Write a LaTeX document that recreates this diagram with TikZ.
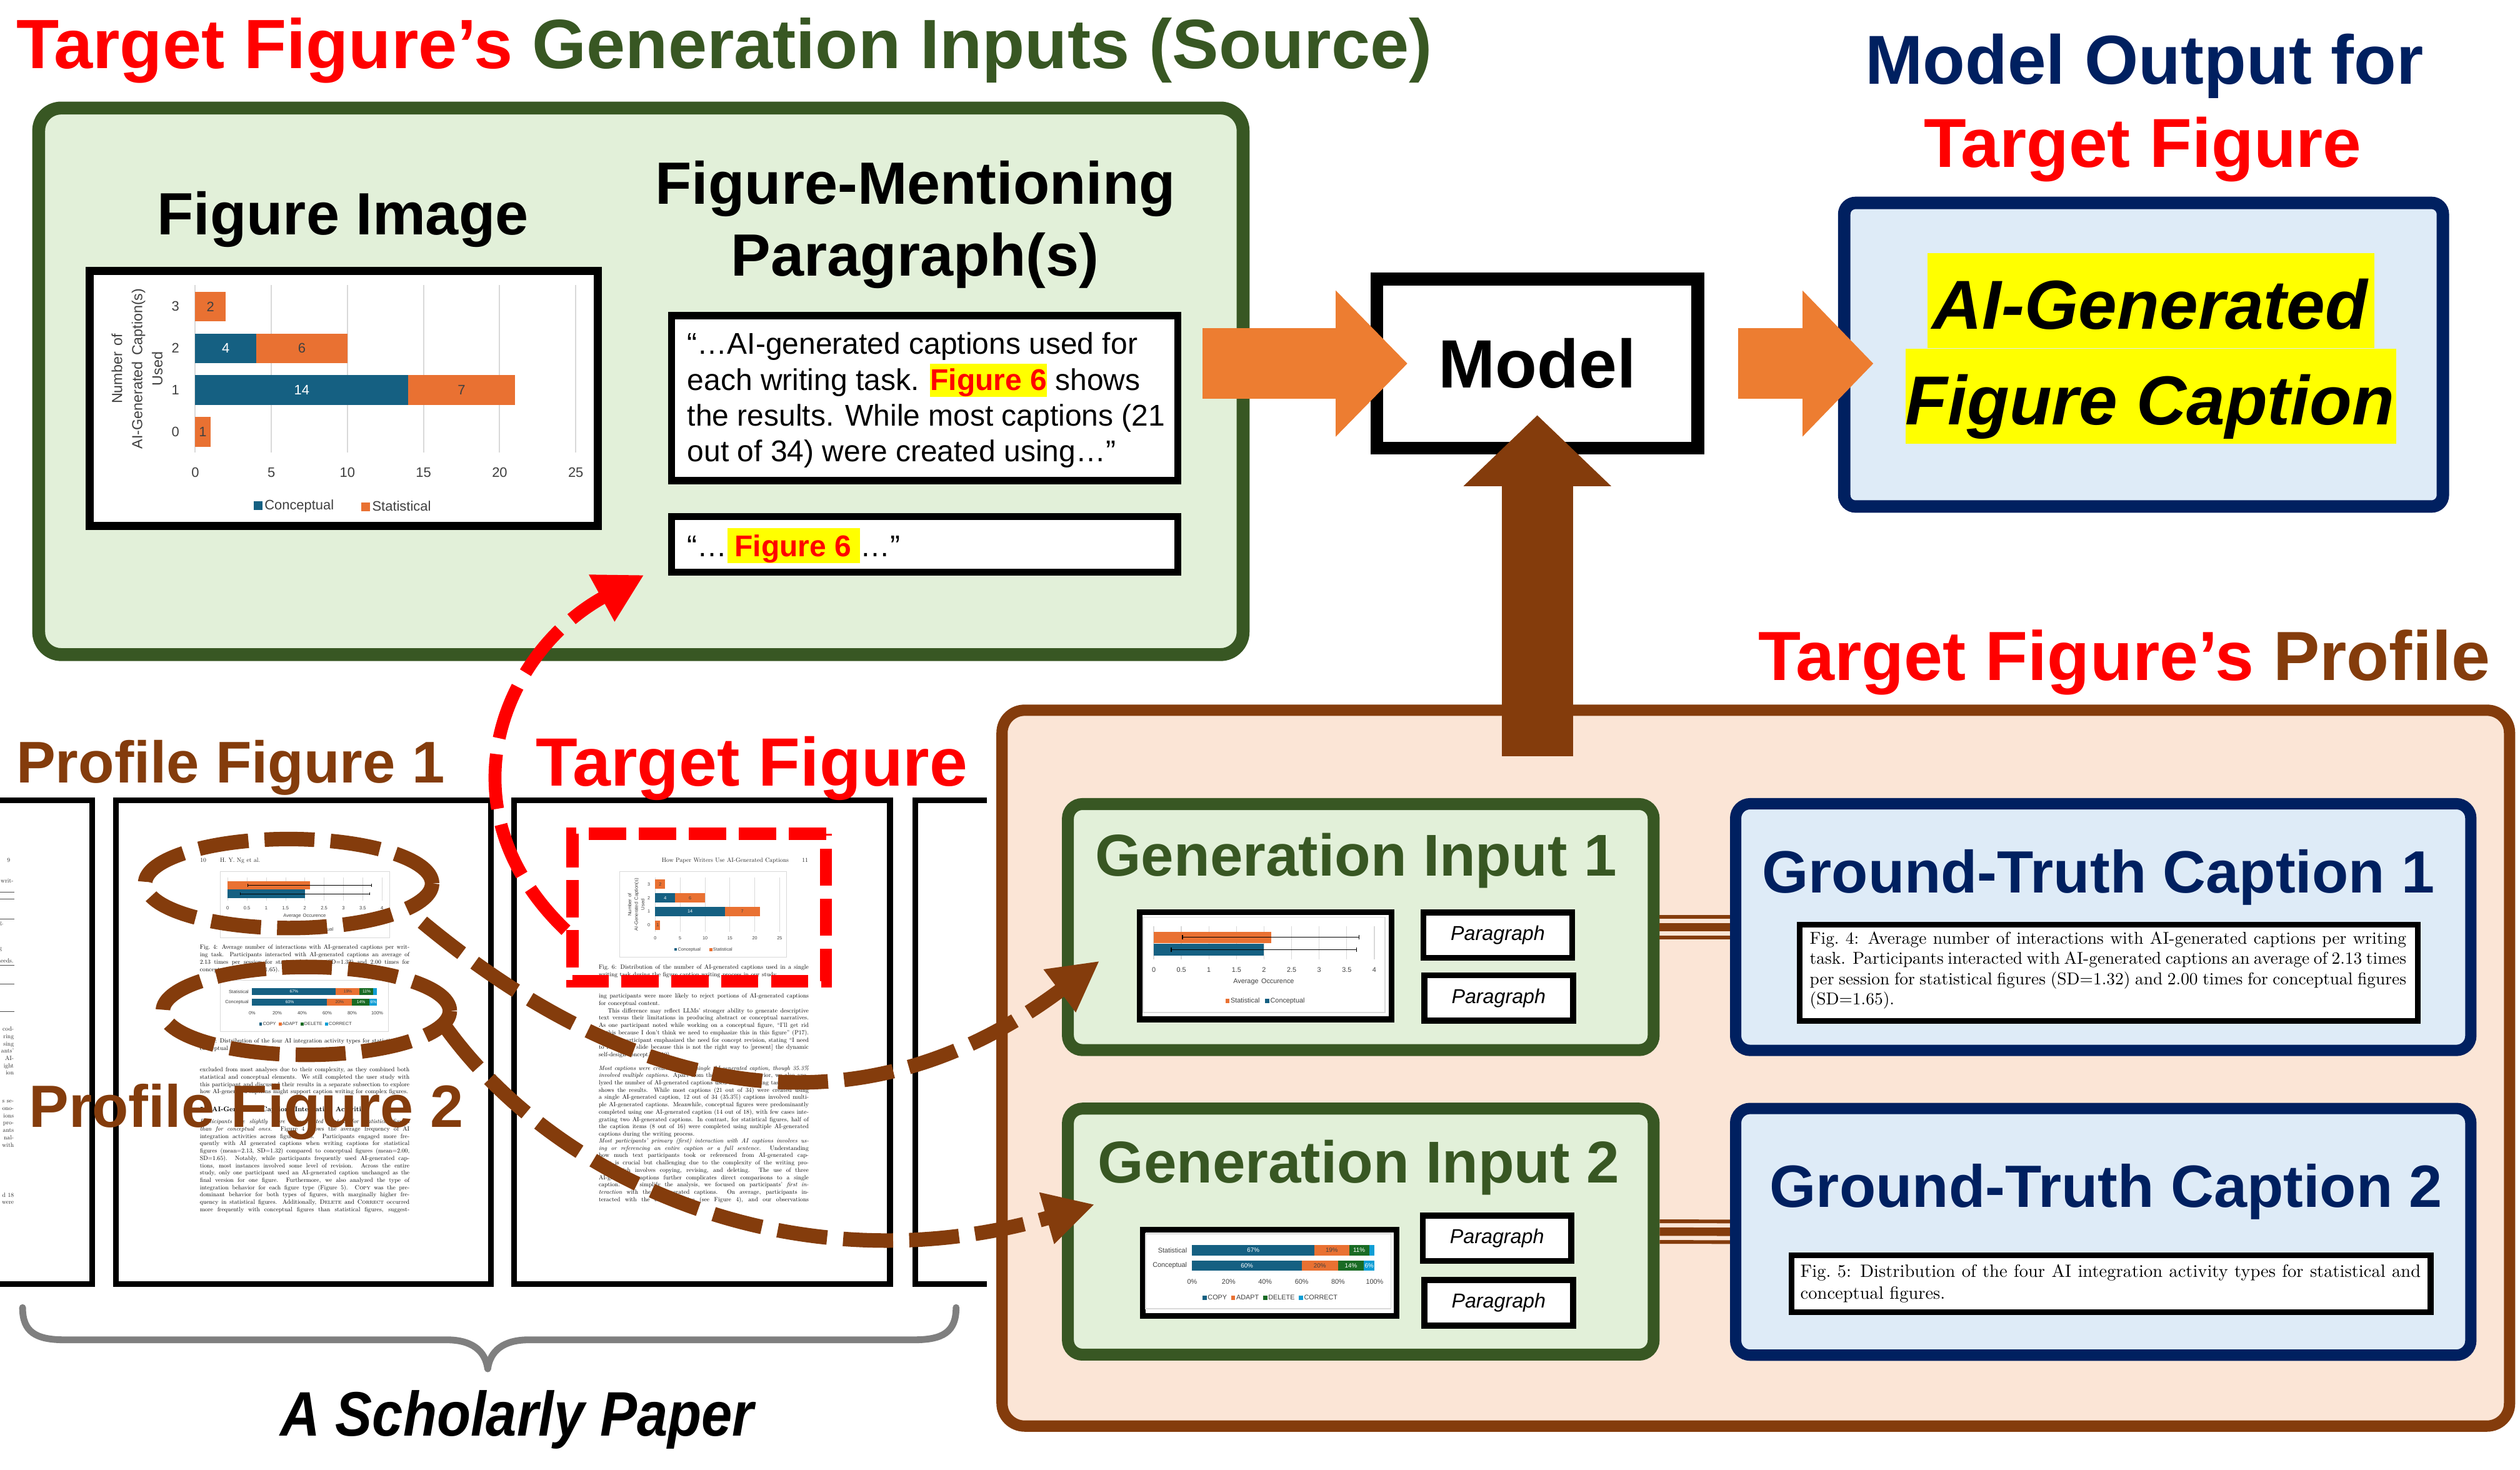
\documentclass[tikz,border=0pt]{standalone}
\usepackage{fontspec}
\usepackage{graphicx}
\usetikzlibrary{arrows.meta,shapes.geometric,calc}
\newfontfamily\arial{Liberation Sans}
\newfontfamily\lmten{lmroman10-regular.otf}[BoldFont=lmroman10-bold.otf, ItalicFont=lmroman10-italic.otf, BoldItalicFont=lmroman10-bolditalic.otf, SmallCapsFont=lmromancaps10-regular.otf]
\newlength\pxu \setlength\pxu{2.58pt}
\definecolor{srcgreen}{HTML}{385723}
\definecolor{srcfill}{HTML}{E2F0D9}
\definecolor{orangeA}{HTML}{ED7D31}
\definecolor{brownC}{HTML}{843C0C}
\definecolor{peach}{HTML}{FBE5D6}
\definecolor{navy}{HTML}{002060}
\definecolor{ltblue}{HTML}{DEEBF7}
\definecolor{cblue}{HTML}{156082}
\definecolor{corange}{HTML}{E97132}
\definecolor{cgreen}{HTML}{196B24}
\definecolor{clblue}{HTML}{0F9ED5}
\definecolor{gridc}{HTML}{D9D9D9}
\definecolor{bracec}{HTML}{7F7F7F}
\definecolor{hlyellow}{HTML}{FFFF00}
\definecolor{txtgray}{HTML}{404040}
\newcommand{\fsz}[2]{\fontsize{#1}{#2}\selectfont}
\newcommand{\lsq}[1]{\textcolor{#1}{\rule{0.62em}{0.62em}}}
\newcommand{\hlr}[3]{{\setlength{\fboxsep}{0pt}\colorbox{hlyellow}{\rule[-#1]{0pt}{#2}\textcolor{red}{\bfseries #3}}}}
\newcommand{\hly}[1]{{\setlength{\fboxsep}{0pt}\colorbox{hlyellow}{\rule[-12pt]{0pt}{59pt}#1}}}
\newcommand{\pgfnt}{\lmten\fsz{3.75}{4.54}\spaceskip=0.36em plus 0.3em minus 0.01em\relax}
\newcommand{\ws}{\hspace{0.42em}}
% ---------- chart macros ----------
\newcommand{\chartsix}[2]{%
  \foreach \k in {0,...,5}{\draw[gridc, line width=#2] (47.2*\k,-13.2) -- (47.2*\k,90.5);}
  \fill[corange] (0,-9.15) rectangle (18.88,9.15);
  \fill[cblue] (0,16.75) rectangle (37.76,35.05);
  \fill[corange] (37.76,16.75) rectangle (94.4,35.05);
  \fill[cblue] (0,42.65) rectangle (132.16,60.95);
  \fill[corange] (132.16,42.65) rectangle (198.24,60.95);
  \fill[corange] (0,68.65) rectangle (9.44,86.95);
  \node[chtxt] (#1d1) at (9.44,0) {2};
  \node[chtxt, text=white] (#1d2) at (18.88,25.9) {4};
  \node[chtxt] (#1d3) at (66.08,25.9) {6};
  \node[chtxt, text=white] (#1d4) at (66.08,51.8) {14};
  \node[chtxt] (#1d5) at (165.2,51.8) {7};
  \node[chtxt] (#1d6) at (4.72,77.8) {1};
  \foreach \k/\lab in {0/3,1/2,2/1,3/0}{\node[chtxt] (#1c\k) at (-12.3,25.93*\k) {\lab};}
  \foreach \k/\lab in {0/0,1/5,2/10,3/15,4/20,5/25}{\node[chtxt] (#1t\k) at (47.2*\k,102.9) {\lab};}
  \node[chtxt, anchor=west] (#1lg1) at (36.1,123.9) {\lsq{cblue}\,Conceptual};
  \node[chtxt, anchor=west] (#1lg2) at (102.9,123.9) {\lsq{corange}\,Statistical};
  \node[chtxt, rotate=90, align=center, font=\arial\fsz{9}{12.5}] (#1yl) at (-36.1,38.6) {Number\ws of\\AI-Generated\ws Caption(s)\\Used};
}
\newcommand{\chartfour}[2]{%
  \draw[gridc, line width=#2, fill=white] (-6.6,-12.4) rectangle (143.4,46.6);
  \foreach \k in {0,...,8}{\draw[gridc, line width=#2] (17.1*\k,-7) -- (17.1*\k,13.6);}
  \fill[corange] (0,-3.6) rectangle (72.8,3.6);
  \fill[cblue] (0,3.8) rectangle (68.4,11.2);
  \draw[black, line width=#2] (17.8,0) -- (127.2,0) (17.8,-1.3) -- (17.8,1.3) (127.2,-1.3) -- (127.2,1.3)
     (10.9,7.5) -- (125.9,7.5) (10.9,6.2) -- (10.9,8.8) (125.9,6.2) -- (125.9,8.8);
  \foreach \k/\lab in {0/0,1/0.5,2/1,3/1.5,4/2,5/2.5,6/3,7/3.5,8/4}{\node[chtxtb] (#1t\k) at (17.1*\k,20.1) {\lab};}
  \node[chtxtb] (#1xl) at (68.2,27.4) {Average\ws Occurence};
  \node[chtxtb] (#1lg) at (69,39.6) {\lsq{corange}\,Statistical\hspace{0.8em}\lsq{cblue}\,Conceptual};
}
\newcommand{\chartfive}[2]{%
  \draw[gridc, line width=#2, fill=white] (-28.8,-10.2) rectangle (123.3,36.3);
  \fill[cblue] (0,-3.2) rectangle (75.84,3.2);
  \fill[corange] (75.84,-3.2) rectangle (97.35,3.2);
  \fill[cgreen] (97.35,-3.2) rectangle (109.8,3.2);
  \fill[clblue] (109.8,-3.2) rectangle (113.2,3.2);
  \fill[cblue] (0,6.3) rectangle (67.92,12.6);
  \fill[corange] (67.92,6.3) rectangle (90.56,12.6);
  \fill[cgreen] (90.56,6.3) rectangle (106.4,12.6);
  \fill[clblue] (106.4,6.3) rectangle (113.2,12.6);
  \node[chtxtc, text=white] (#1a1) at (37.9,0) {67\%};
  \node[chtxtc] (#1a2) at (86.6,0) {19\%};
  \node[chtxtc, text=white] (#1a3) at (103.6,0) {11\%};
  \node[chtxtc, text=white] (#1b1) at (34,9.45) {60\%};
  \node[chtxtc] (#1b2) at (79.2,9.45) {20\%};
  \node[chtxtc, text=white] (#1b3) at (98.5,9.45) {14\%};
  \node[chtxtc, text=white] (#1b4) at (109.8,9.45) {6\%};
  \node[chtxtb, anchor=east] (#1s) at (-3,0) {Statistical};
  \node[chtxtb, anchor=east] (#1c) at (-3,9.45) {Conceptual};
  \foreach \k/\lab in {0/0\%,1/20\%,2/40\%,3/60\%,4/80\%,5/100\%}{\node[chtxtb] (#1t\k) at (22.64*\k,19.6) {\lab};}
  \node[chtxtb] (#1lg) at (48.3,29.3) {\lsq{cblue}\,COPY\hspace{0.6em}\lsq{corange}\,ADAPT\hspace{0.6em}\lsq{cgreen}\,DELETE\hspace{0.6em}\lsq{clblue}\,CORRECT};
}
\begin{document}
\begin{tikzpicture}[x=1pt,y=-1pt, scale=2.58, every node/.style={inner sep=0pt, transform shape}]
\tikzset{
  mylw/.style={line width=#1\pxu, outer sep={0.5*#1pt}},
  chtxt/.style={font=\arial\fsz{8.5}{10}, text=txtgray},
  chtxtb/.style={font=\arial\fsz{4.2}{5}, text=txtgray},
  chtxtc/.style={font=\arial\fsz{3.8}{4.5}, text=txtgray},
  pgtxt/.style={font=\pgfnt, anchor=base west, text=black!85},
  frag/.style={font=\pgfnt, anchor=base east, text=black!85},
  blkbox/.style={draw=black, fill=white},
  parbox/.style={draw=black, fill=white, mylw=3.7, minimum width=92.2pt, minimum height=28.2pt, font=\arial\itshape\fsz{12.5}{14}},
  gibox/.style={draw=srcgreen, fill=srcfill, mylw=7.4, rounded corners=9\pxu, minimum width=363.3pt, minimum height=152.6pt},
  gtbox/.style={draw=navy, fill=ltblue, mylw=7, rounded corners=9\pxu, minimum width=456pt, minimum height=153pt},
  pagebox/.style={draw=black, fill=white, mylw=3.5},
  bdash/.style={draw=brownC, line width=9\pxu, dash pattern=on 31\pxu off 10\pxu},
}
\useasboundingbox (0,0) rectangle (1563,911.75);
\fill[white] (0,0) rectangle (1563,911.75);

% ================= SOURCE BOX =================
\node[draw=srcgreen, fill=srcfill, mylw=8, rounded corners=14\pxu, minimum width=747pt, minimum height=339pt] (src) at (397.5,236.5) {};
\node[anchor=base, font=\arial\bfseries\fsz{37}{44}] (figimgT) at (212.6,145.7) {Figure Image};
\node[anchor=base, font=\arial\bfseries\fsz{37}{44}] (fmT1) at (567.8,126.4) {Figure-Mentioning};
\node[anchor=base, font=\arial\bfseries\fsz{37}{44}] (fmT2) at (567.6,171.2) {Paragraph(s)};
\node[blkbox, mylw=5, minimum width=315.3pt, minimum height=158.3pt] (figimg) at (213.15,247.15) {};
\begin{scope}[shift={(121.1,190.1)}]
  \chartsix{fi}{0.8\pxu}
\end{scope}
\node[blkbox, mylw=4.5, minimum width=313.9pt, minimum height=102.4pt] (par1) at (573.5,246.95) {};
\node[blkbox, mylw=4.5, minimum width=313.9pt, minimum height=34.6pt] (par2) at (573.5,337.65) {};
\node[anchor=base west, font=\arial\fsz{18.6}{22}] (p1l1) at (426.2,219.6) {“…AI-generated captions used for};
\node[anchor=base west, font=\arial\fsz{18.6}{22}] (p1l2) at (426.2,241.9) {each writing task. \hlr{4.1pt}{20.5pt}{Figure 6} shows};
\node[anchor=base west, font=\arial\fsz{18.6}{22}] (p1l3) at (426.2,264) {the results. While most captions (21};
\node[anchor=base west, font=\arial\fsz{18.6}{22}] (p1l4) at (426.2,286.3) {out of 34) were created using…”};
\node[anchor=base west, font=\arial\fsz{18.6}{22}] (p2l1) at (426.2,345.2) {“…\hlr{3.6pt}{21.2pt}{\hspace{4.5pt}Figure 6\hspace{5.5pt}}…”};

% ================= MODEL & OUTPUT =================
\node[draw=black, fill=white, mylw=8, minimum width=199pt, minimum height=105pt, font=\arial\bfseries\fsz{42.4}{48}] (model) at (953.5,225.5) {Model};
\node[anchor=base, font=\arial\bfseries\fsz{43}{50}, text=navy] (outT1) at (1330,52) {Model Output for};
\node[anchor=base, font=\arial\bfseries\fsz{43}{50}, text=red] (outT2) at (1329,103.6) {Target Figure};
\node[draw=navy, fill=ltblue, mylw=7.7, rounded corners=7\pxu, minimum width=371.3pt, minimum height=188.3pt] (out) at (1329.5,220) {};
\node[anchor=base, font=\arial\bfseries\itshape\fsz{43}{50}] (aig1) at (1334,204) {\hly{\hspace{3pt}AI-Generated\hspace{4pt}}};
\node[anchor=base, font=\arial\bfseries\itshape\fsz{43}{50}] (aig2) at (1334,263.3) {\hly{Figure Caption\hspace{1pt}}};

% ================= PROFILE BOX =================
\node[anchor=base west, font=\arial\bfseries\fsz{43.2}{50}] (profT) at (1090.5,422) {\textcolor{red}{Target Figure’s} \textcolor{brownC}{Profile}};
\node[draw=brownC, fill=peach, mylw=7, rounded corners=14\pxu, minimum width=935pt, minimum height=444pt] (prof) at (1089,662.5) {};

\node[gibox] (gi1) at (844,575) {};
\node[gibox] (gi2) at (844,763.9) {};
\node[gtbox] (gt1) at (1304.5,575) {};
\node[gtbox] (gt2) at (1304.5,764) {};
\foreach \g/\h in {gi1/gt1,gi2/gt2}{
  \draw[brownC, line width=2.3\pxu] ($(\g.east)+(0,-6.4)$) -- ($(\h.west)+(0,-6.4)$);
  \draw[brownC, line width=5.2\pxu] (\g.east) -- (\h.west);
  \draw[brownC, line width=2.3\pxu] ($(\g.east)+(0,6.4)$) -- ($(\h.west)+(0,6.4)$);
}
\node[anchor=base, font=\arial\bfseries\fsz{36.6}{44}, text=srcgreen] (gi1T) at (841,543.2) {Generation Input 1};
\node[anchor=base, font=\arial\bfseries\fsz{36.6}{44}, text=srcgreen] (gi2T) at (842.6,733.5) {Generation Input 2};
\node[anchor=base, font=\arial\bfseries\fsz{37}{44}, text=navy] (gt1T) at (1301.5,553.8) {Ground-Truth Caption 1};
\node[anchor=base, font=\arial\bfseries\fsz{37}{44}, text=navy] (gt2T) at (1306.3,748.8) {Ground-Truth Caption 2};

\node[blkbox, mylw=3.6, minimum width=156.4pt, minimum height=66.4pt] (gi1c) at (785,599) {};
\begin{scope}[shift={(715.6,581.4)}]
  \chartfour{ga}{0.5\pxu}
\end{scope}
\node[blkbox, mylw=3.6, minimum width=157.4pt, minimum height=53.4pt] (gi2c) at (787.5,789.5) {};
\begin{scope}[shift={(739.4,775.4)}]
  \chartfive{gb}{0.5\pxu}
\end{scope}
\node[parbox] (gi1p1) at (929,580) {Paragraph};
\node[parbox] (gi1p2) at (929.5,619) {Paragraph};
\node[parbox] (gi2p1) at (928.5,768) {Paragraph};
\node[parbox] (gi2p2) at (929.5,808) {Paragraph};

\node[blkbox, mylw=3.5, minimum width=383.4pt, minimum height=59.4pt] (cap1) at (1307.75,603.35) {};
\node[anchor=base west] (cap1t) at (1122.3,585.5) {\parbox[t]{370pt}{\lmten\fsz{10.64}{12.55}Fig.~4: Average number of interactions with AI-generated captions per writing task. Participants interacted with AI-generated captions an average of 2.13 times per session for statistical figures (SD=1.32) and 2.00 times for conceptual figures (SD=1.65).}};
\node[blkbox, mylw=3.5, minimum width=396.4pt, minimum height=35.2pt] (cap2) at (1309.35,796.35) {};
\node[anchor=base west] (cap2t) at (1116.5,792.2) {\parbox[t]{384.7pt}{\lmten\fsz{11.06}{13.4}Fig.~5: Distribution of the four AI integration activity types for statistical and conceptual figures.}};

% ================= PAPER PAGES =================
\draw[draw=black, fill=white, line width=3.5\pxu] (0,496.3) -- (57.3,496.3) -- (57.3,796.5) -- (0,796.5);
\node[pagebox, minimum width=232.5pt, minimum height=300.2pt] (pgB) at (188.25,646.4) {};
\node[pagebox, minimum width=233pt, minimum height=300.2pt] (pgC) at (435.5,646.4) {};
\draw[draw=black, fill=white, line width=3.5\pxu] (612,496.3) -- (567.8,496.3) -- (567.8,796.5) -- (612,796.5);

% page A fragments
\node[frag] (fa1) at (6.5,534.7) {9};
\node[frag] (fa2) at (8.6,547.4) {writ-};
\draw[black!70, line width=0.35\pxu] (0,553.5) -- (8.8,553.5) (0,557.5) -- (8.8,557.5) (0,570) -- (8.8,570) (0,598.8) -- (8.8,598.8) (0,610.5) -- (8.8,610.5) (0,627.3) -- (8.8,627.3);
\node[frag] (fa3) at (2.4,573.6) {g.};
\node[frag] (fa4) at (1.4,589.6) {g};
\node[frag] (fa5) at (8.6,597.2) {needs.};
\foreach \t [count=\i from 0] in {cod-,ring,sing,ants’,AI-,ight,ion,}{\node[frag] (fb\i) at (8.8,639.5+4.54*\i) {\t};}
\foreach \t [count=\i from 0] in {s se-,ono-,ions,pro-,ants,nal-,with}{\node[frag] (fc\i) at (8.8,684.1+4.54*\i) {\t};}
\node[frag] (fd1) at (8.8,742.4) {d 18};
\node[frag] (fd2) at (8.8,746.9) {were};

% page B
\node[pgtxt] (pbh1) at (124,534.7) {10};
\node[pgtxt] (pbh2) at (136.3,534.7) {H. Y. Ng et al.};
\begin{scope}[shift={(141.2,549.1)}, scale=0.7]
  \chartfour{pb}{0.3\pxu}
\end{scope}
\node[anchor=base west] (pbc4) at (123.8,588.8) {\parbox[t]{130pt}{\pgfnt Fig.~4: Average number of interactions with AI-generated captions per writing task. Participants interacted with AI-generated captions an average of 2.13 times per session for statistical figures (SD=1.32) and 2.00 times for conceptual figures (SD=1.65).}};
\begin{scope}[shift={(156.4,615)}, scale=0.685]
  \chartfive{pc}{0.3\pxu}
\end{scope}
\node[anchor=base west] (pbc5) at (123.8,646.9) {\parbox[t]{130pt}{\pgfnt Fig.~5: Distribution of the four AI integration activity types for statistical and conceptual figures.}};
\node[anchor=base west] (pbb1) at (123.8,664.7) {\parbox[t]{130pt}{\pgfnt excluded from most analyses due to their complexity, as they combined both statistical and conceptual elements. We still completed the user study with this participant and discussed their results in a separate subsection to explore how AI-generated captions might support caption writing for complex figures.}};
\node[anchor=base west, font=\lmten\bfseries\fsz{4.2}{5}] (pbh) at (123.8,689.6) {5\hspace{1.2em}AI-Generated\ws Captions\ws Integration\ws Activities};
\node[anchor=base west] (pbb2) at (123.8,696.9) {\parbox[t]{130pt}{\pgfnt\parfillskip=0pt \textit{Participants use slightly more AI-generated content for statistical figures than for conceptual ones.} Figure~4 shows the average frequency of AI integration activities across figure types. Participants engaged more frequently with AI generated captions when writing captions for statistical figures (mean=2.13, SD=1.32) compared to conceptual figures (mean=2.00, SD=1.65). Notably, while participants frequently used AI-generated captions, most instances involved some level of revision. Across the entire study, only one participant used an AI-generated caption unchanged as the final version for one figure. Furthermore, we also analyzed the type of integration behavior for each figure type (Figure~5). \textsc{Copy} was the predominant behavior for both types of figures, with marginally higher frequency in statistical figures. Additionally, \textsc{Delete} and \textsc{Correct} occurred more frequently with conceptual figures than statistical figures, suggest-}};

% page C
\node[pgtxt, anchor=base east] (pch) at (501.4,534.7) {How Paper Writers Use AI-Generated Captions\hspace{2.2em}11};
\draw[gridc, line width=0.3\pxu, fill=white] (384.3,540.7) rectangle (488,593.7);
\begin{scope}[shift={(406.4,548.4)}, scale=0.327]
  \chartsix{pg}{0.3\pxu}
\end{scope}
\node[anchor=base west] (pcc6) at (371.2,601) {\parbox[t]{130.2pt}{\pgfnt Fig.~6: Distribution of the number of AI-generated captions used in a single writing task during the figure caption writing process in our study.}};
\node[anchor=base west] (pcb1) at (371.2,619) {\parbox[t]{130.2pt}{\pgfnt\parindent=5.6pt\noindent ing participants were more likely to reject portions of AI-generated captions for conceptual content.\par This difference may reflect LLMs’ stronger ability to generate descriptive text versus their limitations in producing abstract or conceptual narratives. As one participant noted while working on a conceptual figure, “I’ll get rid of this because I don’t think we need to emphasize this in this figure” (P17). Another participant emphasized the need for concept revision, stating “I need to revise this slide because this is not the right way to [present] the dynamic self-design concept.” (P10)}};
\node[anchor=base west] (pcb2) at (371.2,663.7) {\parbox[t]{130.2pt}{\pgfnt \textit{Most captions were created using a single AI-generated caption, though 35.3\% involved multiple captions.} Apart from the integration behavior, we also analyzed the number of AI-generated captions used in each writing task. Figure~6 shows the results. While most captions (21 out of 34) were created using a single AI-generated caption, 12 out of 34 (35.3\%) captions involved multiple AI-generated captions. Meanwhile, conceptual figures were predominantly completed using one AI-generated caption (14 out of 18), with few cases integrating two AI-generated captions. In contrast, for statistical figures, half of the caption items (8 out of 16) were completed using multiple AI-generated captions during the writing process.}};
\node[anchor=base west] (pcb3) at (371.2,708.8) {\parbox[t]{130.2pt}{\pgfnt\parfillskip=0pt \textit{Most participants’ primary (first) interaction with AI captions involves using or referencing an entire caption or a full sentence.} Understanding how much text participants took or referenced from AI-generated captions is crucial but challenging due to the complexity of the writing process, which involves copying, revising, and deleting. The use of three AI-generated captions further complicates direct comparisons to a single caption. To simplify the analysis, we focused on participants’ \textit{first interaction} with the AI-generated captions. On average, participants interacted with the captions twice (see Figure~4), and our observations}};

% ================= HIGHLIGHT MARKS =================
\node[draw=red, line width=7.6\pxu, dash pattern=on 23\pxu off 8\pxu, minimum width=157.3pt, minimum height=91.3pt] (tgtrect) at (433.65,562.85) {};
\node[ellipse, bdash, minimum width=178pt, minimum height=55.2pt] (e1) at (179,548) {};
\node[ellipse, bdash, minimum width=178pt, minimum height=54.5pt] (e2) at (190,627) {};
\node[anchor=base west, font=\arial\bfseries\fsz{36.5}{44}, text=brownC] (pf1) at (9.9,485.7) {Profile Figure 1};
\node[anchor=base west, font=\arial\bfseries\fsz{42.4}{50}, text=red] (tf) at (332.2,487.3) {Target Figure};
\node[anchor=base west, font=\arial\bfseries\fsz{37}{44}, text=brownC] (pf2) at (17.8,699.3) {Profile Figure 2};

% ================= CONNECTORS =================
\coordinate (rcs) at (351,577);
\coordinate (rce) at (399.5,356.6);
\draw[red, line width=8\pxu, dash pattern=on 34\pxu off 10\pxu, -{Triangle[length=77.4pt,width=79.98pt]}] (rcs) .. controls (271.8,501.1) and (311.8,404.6) .. (rce);
\coordinate (b1s) at (262,572);
\coordinate (b1e) at (682,596);
\draw[bdash, -{Triangle[length=79.98pt,width=79.98pt]}] (b1s) .. controls (400.6,687) and (538,704) .. (b1e);
\coordinate (b2s) at (277,638);
\coordinate (b2e) at (679,747);
\draw[bdash, -{Triangle[length=79.98pt,width=79.98pt]}] (b2s) .. controls (347.8,735.2) and (496.4,799.6) .. (b2e);

\draw[orangeA, line width=44\pxu, -{Triangle[length=114.81pt,width=227.04pt]}, shorten <=-74.82pt, shorten >=-59.34pt] (src.east |- model.west) -- (model.west);
\draw[orangeA, line width=44\pxu, -{Triangle[length=113.52pt,width=227.04pt]}, shorten <=54.18pt, shorten >=-56.76pt] (model.east) -- (model.east -| out.west);
\draw[brownC, line width=44.2\pxu, -{Triangle[length=113.52pt,width=229.62pt]}, shorten <=-82.56pt, shorten >=-63.21pt] (model.south |- prof.north) -- (model.south);

% ================= BRACE =================
\draw[bracec, line width=4.2\pxu, line cap=round, line join=round] (14,811) .. controls (14,826) and (22,831) .. (40,831) -- (277,831) .. controls (293,831) and (301,838) .. (302.5,849) .. controls (304,838) and (312,831) .. (328,831) -- (567,831) .. controls (585,831) and (593,826) .. (593,811);
\node[anchor=base, font=\arial\bfseries\itshape\fsz{39}{46}] (schol) at (320.7,890.8) {\scalebox{0.88}[1]{A Scholarly Paper}};

% ================= MAIN TITLE =================
\node[anchor=base west, font=\arial\bfseries\fsz{43.3}{50}] (title) at (10,42.5) {\textcolor{red}{Target Figure’s} \textcolor{srcgreen}{Generation Inputs (Source)}};
\end{tikzpicture}
\end{document}
